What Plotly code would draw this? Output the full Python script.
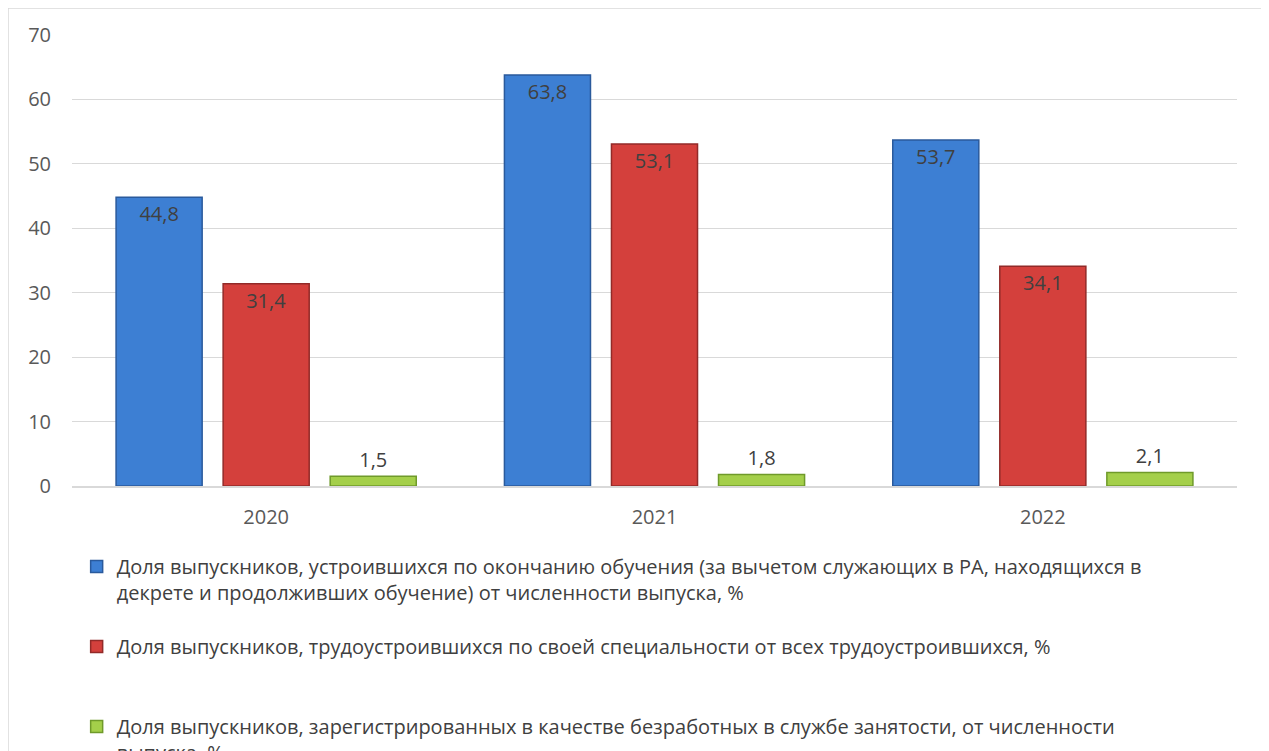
import plotly.graph_objects as go

years = ["2020", "2021", "2022"]
employed = [44.8, 63.8, 53.7]
by_specialty = [31.4, 53.1, 34.1]
unemployed = [1.5, 1.8, 2.1]

names = [
    "Доля выпускников, устроившихся по окончанию обучения (за вычетом служающих в РА, находящихся в<br>декрете и продолживших обучение) от численности выпуска, %",
    "Доля выпускников, трудоустроившихся по своей специальности от всех трудоустроившихся, %<br> ",
    "Доля выпускников, зарегистрированных в качестве безработных в службе занятости, от численности<br>выпуска, %",
]
series = [employed, by_specialty, unemployed]
colors = ["#3d7fd3", "#d4403c", "#a4cf4a"]
lines = ["#2a5a9c", "#922a28", "#6f9a2a"]
positions = ["inside", "inside", "outside"]

FONT = "Open Sans"
fig = go.Figure()
for i, (nm, vals) in enumerate(zip(names, series)):
    fig.add_trace(go.Bar(
        x=years, y=vals, name=nm, legendgroup=f"g{i}",
        marker=dict(color=colors[i], line=dict(color=lines[i], width=1.5)),
        texttemplate="%{y:.1f}", textposition=positions[i],
        insidetextanchor="end",
        textfont=dict(color="#404040", size=20, family=FONT),
        cliponaxis=False,
    ))

fig.update_layout(
    width=1269, height=751,
    separators=", ",
    barmode="group", bargap=0.173, bargroupgap=0.196,
    margin=dict(l=64, r=40, t=27, b=273, autoexpand=False),
    paper_bgcolor="white", plot_bgcolor="white",
    font=dict(family=FONT, size=20, color="#595959"),
    showlegend=True,
    legend=dict(
        orientation="v", x=0.004, xanchor="left", y=-0.135, yanchor="top",
        valign="top", tracegroupgap=25, font=dict(size=20, color="#404040", family=FONT),
        itemwidth=30,
    ),
)
fig.update_yaxes(range=[0, 70], dtick=10, showgrid=True, gridcolor="#d9d9d9", gridwidth=1,
                 zeroline=False, showline=False, ticks="", tickfont=dict(size=20, color="#595959"),
                 ticklabelstandoff=20)
fig.update_xaxes(showline=True, linecolor="#d9d9d9", linewidth=1.5, ticks="",
                 tickfont=dict(size=20, color="#595959"), ticklabelstandoff=12)

fig.add_shape(type="rect", xref="paper", yref="paper",
              x0=(0 - 64) / 1165, x1=(1255 - 64) / 1165,
              y0=-0.75, y1=478 / 451,
              line=dict(color="#d9d9d9", width=1.5), fillcolor="rgba(0,0,0,0)", layer="below")

fig.write_html("out.html")
